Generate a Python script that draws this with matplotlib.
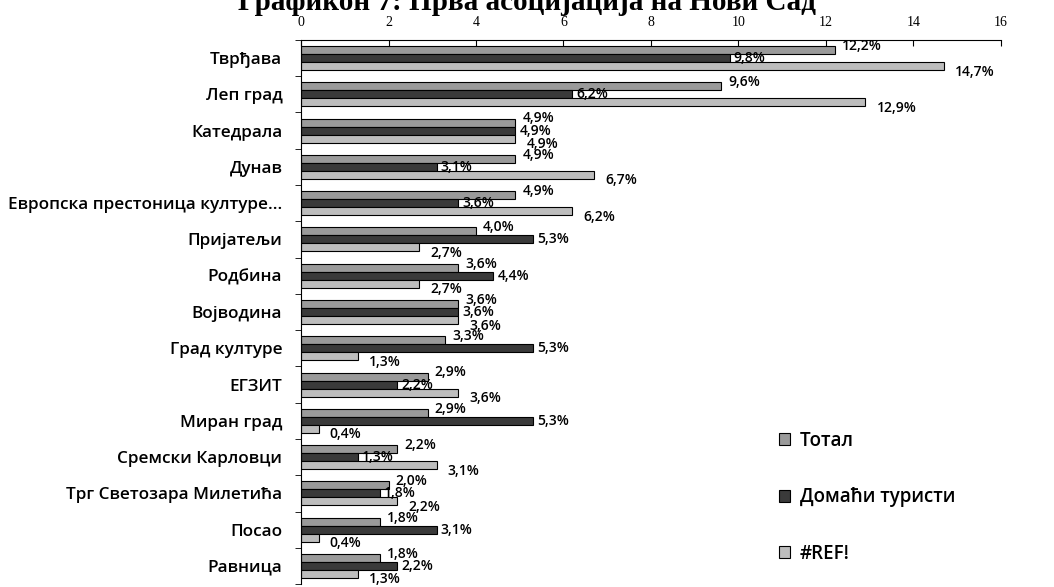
import numpy as np
import matplotlib.pyplot as plt
from matplotlib.ticker import MultipleLocator

# Data (percent)
categories = ["Тврђава", "Леп град", "Катедрала", "Дунав",
              "Европска престоница културе...", "Пријатељи", "Родбина",
              "Војводина", "Град културе", "ЕГЗИТ", "Миран град",
              "Сремски Карловци", "Трг Светозара Милетића", "Посао", "Равница"]
total = [12.2, 9.6, 4.9, 4.9, 4.9, 4.0, 3.6, 3.6, 3.3, 2.9, 2.9, 2.2, 2.0, 1.8, 1.8]
domestic = [9.8, 6.2, 4.9, 3.1, 3.6, 5.3, 4.4, 3.6, 5.3, 2.2, 5.3, 1.3, 1.8, 3.1, 2.2]
foreign = [14.7, 12.9, 4.9, 6.7, 6.2, 2.7, 2.7, 3.6, 1.3, 3.6, 0.4, 3.1, 2.2, 0.4, 1.3]
series_names = ["Тотал", "Домаћи туристи", "#REF!"]

title = "Графикон 7: Прва асоцијација на Нови Сад"

plt.rcParams['font.family'] = ['Open Sans', 'DejaVu Sans']

fig = plt.figure(figsize=(10.54, 5.87), dpi=100)
ax = fig.add_axes([0.2856, 0.005, 0.664, 0.927])

y = np.arange(len(categories))
h = 0.22
colors = ['#9a9a9a', '#3a3a3a', '#bdbdbd']
offsets = [-h, 0, h]
# label nudges in points (x, y) per series, roughly like the scan
nudges = [(5, 3), (3, 0), (8, -4)]

for vals, name, col, off, (dx, dy) in zip([total, domestic, foreign], series_names,
                                          colors, offsets, nudges):
    bars = ax.barh(y + off, vals, height=h, color=col, edgecolor='black',
                   linewidth=0.8, label=name)
    for b, v in zip(bars, vals):
        ax.annotate(f"{v:.1f}%".replace('.', ','),
                    (b.get_width(), b.get_y() + b.get_height() / 2),
                    xytext=(dx, dy), textcoords='offset points',
                    ha='left', va='center', fontsize=10, fontweight='semibold')

ax.set_xlim(0, 16)
ax.set_ylim(len(categories) - 0.5, -0.5)
ax.xaxis.tick_top()
ax.xaxis.set_major_locator(MultipleLocator(2))
ax.tick_params(axis='x', direction='in', length=4, pad=8, labelsize=10)
for lab in ax.get_xticklabels():
    lab.set_fontfamily('Liberation Serif')

ax.set_yticks(y)
ax.set_yticklabels(categories, fontsize=12.3, fontweight='semibold')
ax.set_yticks(np.arange(len(categories) + 1) - 0.5, minor=True)
ax.tick_params(axis='y', which='major', length=0, pad=13.5)
ax.tick_params(axis='y', which='minor', length=4, direction='out')

ax.spines['right'].set_visible(False)
ax.spines['bottom'].set_visible(False)

ax.legend(loc='upper left', bbox_to_anchor=(0.659, 0.3125), frameon=False,
          handlelength=0.6, handleheight=0.6, handletextpad=0.5,
          labelspacing=1.95, prop={'size': 13.5, 'weight': 'semibold'})

fig.text(0.5, 0.983, title, ha='center', va='baseline', fontsize=21,
         fontweight='bold', fontfamily='Liberation Serif')

fig.savefig("out.png", dpi=100)
